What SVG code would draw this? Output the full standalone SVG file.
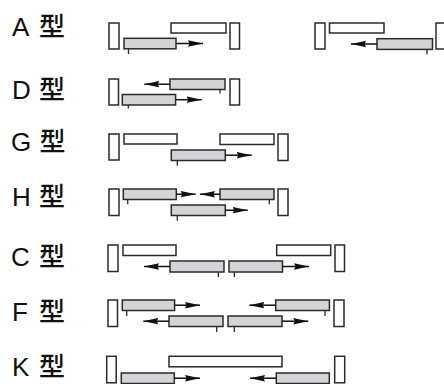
<svg xmlns="http://www.w3.org/2000/svg" width="444" height="384" viewBox="0 0 444 384">
<style>
.lbl{font-family:"Liberation Sans","Noto Sans CJK SC",sans-serif;font-size:26px;fill:#111}
.k{font-family:"Noto Sans CJK SC",sans-serif;font-weight:500}
.j{fill:#fff;stroke:#2b2b2b;stroke-width:1.5}
.w{fill:#fff;stroke:#2b2b2b;stroke-width:1.5}
.g{fill:#d2d4d8;stroke:#2b2b2b;stroke-width:1.5}
.t{stroke:#2b2b2b;stroke-width:1.3}
.a{stroke:#111;stroke-width:1.5;fill:none;marker-end:url(#ah)}
</style>
<defs>
<marker id="ah" markerUnits="userSpaceOnUse" markerWidth="15" markerHeight="7" refX="15" refY="3.5" orient="auto">
<path d="M0,0.3 L15,3.5 L0,6.7 L1.5,3.5 z" fill="#111"/>
</marker>
</defs>
<rect width="444" height="384" fill="#fff"/>

<g id="labels">
<text class="lbl" x="12" y="35.5">A<tspan class="k" x="39">型</tspan></text>
<text class="lbl" x="12" y="99">D<tspan class="k" x="39">型</tspan></text>
<text class="lbl" x="11" y="150.5">G<tspan class="k" x="39.5">型</tspan></text>
<text class="lbl" x="12" y="206">H<tspan class="k" x="39">型</tspan></text>
<text class="lbl" x="11" y="265.5">C<tspan class="k" x="39">型</tspan></text>
<text class="lbl" x="12" y="320.5">F<tspan class="k" x="39">型</tspan></text>
<text class="lbl" x="12" y="375.5">K<tspan class="k" x="39">型</tspan></text>
</g>

<g id="typeA1">
<rect class="j" x="109" y="23" width="10" height="26"/>
<rect class="w" x="171" y="23" width="55" height="10"/>
<rect class="j" x="230" y="23" width="9.5" height="26"/>
<rect class="g" x="124" y="38.3" width="52" height="10.5"/>
<line class="t" x1="128.5" y1="48.8" x2="128.5" y2="54"/>
</g>
<g id="typeA2">
<rect class="j" x="315" y="23" width="10" height="26"/>
<rect class="w" x="329.5" y="23" width="54.5" height="10"/>
<rect class="g" x="377" y="38.7" width="55.5" height="10.7"/>
<rect class="j" x="436" y="23" width="10" height="26"/>
<line class="t" x1="427" y1="49.4" x2="427" y2="54.5"/>
</g>
<g id="typeD">
<rect class="j" x="109" y="79" width="9.5" height="26"/>
<rect class="g" x="170" y="79" width="55" height="10.5"/>
<rect class="j" x="230" y="79" width="9.5" height="26"/>
<line class="t" x1="220" y1="89.5" x2="220" y2="93.5"/>
<rect class="g" x="122.3" y="94.5" width="53.3" height="10.5"/>
<line class="t" x1="128.3" y1="105" x2="128.3" y2="108.5"/>
</g>
<g id="typeG">
<rect class="j" x="109" y="134" width="10" height="26"/>
<rect class="w" x="124" y="134" width="53" height="10"/>
<rect class="w" x="220" y="134" width="54" height="10.5"/>
<rect class="j" x="278" y="134" width="10" height="26.5"/>
<rect class="g" x="171.3" y="150" width="54" height="10.5"/>
<line class="t" x1="177.3" y1="160.5" x2="177.3" y2="165.7"/>
</g>
<g id="typeH">
<rect class="j" x="109" y="189" width="10" height="26.5"/>
<rect class="g" x="123.3" y="189" width="53" height="10.5"/>
<line class="t" x1="127.7" y1="199.5" x2="127.7" y2="204.3"/>
<rect class="g" x="220" y="189" width="54" height="10.5"/>
<line class="t" x1="269.3" y1="199.5" x2="269.3" y2="204.3"/>
<rect class="j" x="278" y="189" width="10" height="26.5"/>
<rect class="g" x="171.3" y="205" width="54" height="10.5"/>
<line class="t" x1="177.3" y1="215.5" x2="177.3" y2="220.7"/>
</g>
<g id="typeC">
<rect class="j" x="108" y="245" width="10" height="26.5"/>
<rect class="w" x="123" y="245" width="53" height="10.5"/>
<rect class="g" x="170" y="261" width="54" height="11"/>
<rect class="g" x="229" y="261" width="53.5" height="11"/>
<line class="t" x1="218.3" y1="272" x2="218.3" y2="277"/>
<line class="t" x1="234.3" y1="272" x2="234.3" y2="277"/>
<rect class="w" x="276.7" y="245" width="54" height="10.5"/>
<rect class="j" x="335" y="245" width="9.5" height="26.5"/>
</g>
<g id="typeF">
<rect class="j" x="108" y="300" width="9.5" height="26.5"/>
<rect class="g" x="122.3" y="300" width="52.3" height="10.5"/>
<line class="t" x1="126.7" y1="310.5" x2="126.7" y2="316"/>
<rect class="g" x="275.7" y="300" width="53.7" height="10.5"/>
<line class="t" x1="325" y1="310.5" x2="325" y2="316"/>
<rect class="j" x="334" y="300" width="10" height="26.5"/>
<rect class="g" x="169" y="316" width="54" height="10.5"/>
<rect class="g" x="228" y="316" width="54" height="10.5"/>
<line class="t" x1="216.7" y1="326.5" x2="216.7" y2="332"/>
<line class="t" x1="234.3" y1="326.5" x2="234.3" y2="332"/>
</g>
<g id="typeK">
<rect class="j" x="106.7" y="356.3" width="9.5" height="26.5"/>
<rect class="w" x="169" y="356.3" width="113" height="10.5"/>
<rect class="g" x="121.3" y="373" width="53" height="10.5"/>
<rect class="g" x="276.3" y="373" width="53" height="10.5"/>
<rect class="j" x="334.7" y="356.3" width="10" height="26.5"/>
</g>

<g id="connectors">
<line class="a" x1="176" y1="43.5" x2="203" y2="43.5"/>
<line class="a" x1="377" y1="44" x2="351" y2="44"/>
<line class="a" x1="170" y1="84.2" x2="144.3" y2="84.2"/>
<line class="a" x1="175.6" y1="99.7" x2="201.7" y2="99.7"/>
<line class="a" x1="225.3" y1="155.2" x2="251.7" y2="155.2"/>
<line class="a" x1="176.3" y1="194.2" x2="195.7" y2="194.2"/>
<line class="a" x1="220" y1="194.2" x2="200" y2="194.2"/>
<line class="a" x1="225.3" y1="210.2" x2="247.7" y2="210.2"/>
<line class="a" x1="170" y1="266.5" x2="144" y2="266.5"/>
<line class="a" x1="282.5" y1="266.5" x2="309" y2="266.5"/>
<line class="a" x1="174.6" y1="305.2" x2="200" y2="305.2"/>
<line class="a" x1="275.7" y1="305.2" x2="249.3" y2="305.2"/>
<line class="a" x1="169" y1="321.2" x2="143.3" y2="321.2"/>
<line class="a" x1="282" y1="321.2" x2="308.3" y2="321.2"/>
<line class="a" x1="174.3" y1="378.2" x2="200" y2="378.2"/>
<line class="a" x1="276.3" y1="378.2" x2="250" y2="378.2"/>
</g>
</svg>
